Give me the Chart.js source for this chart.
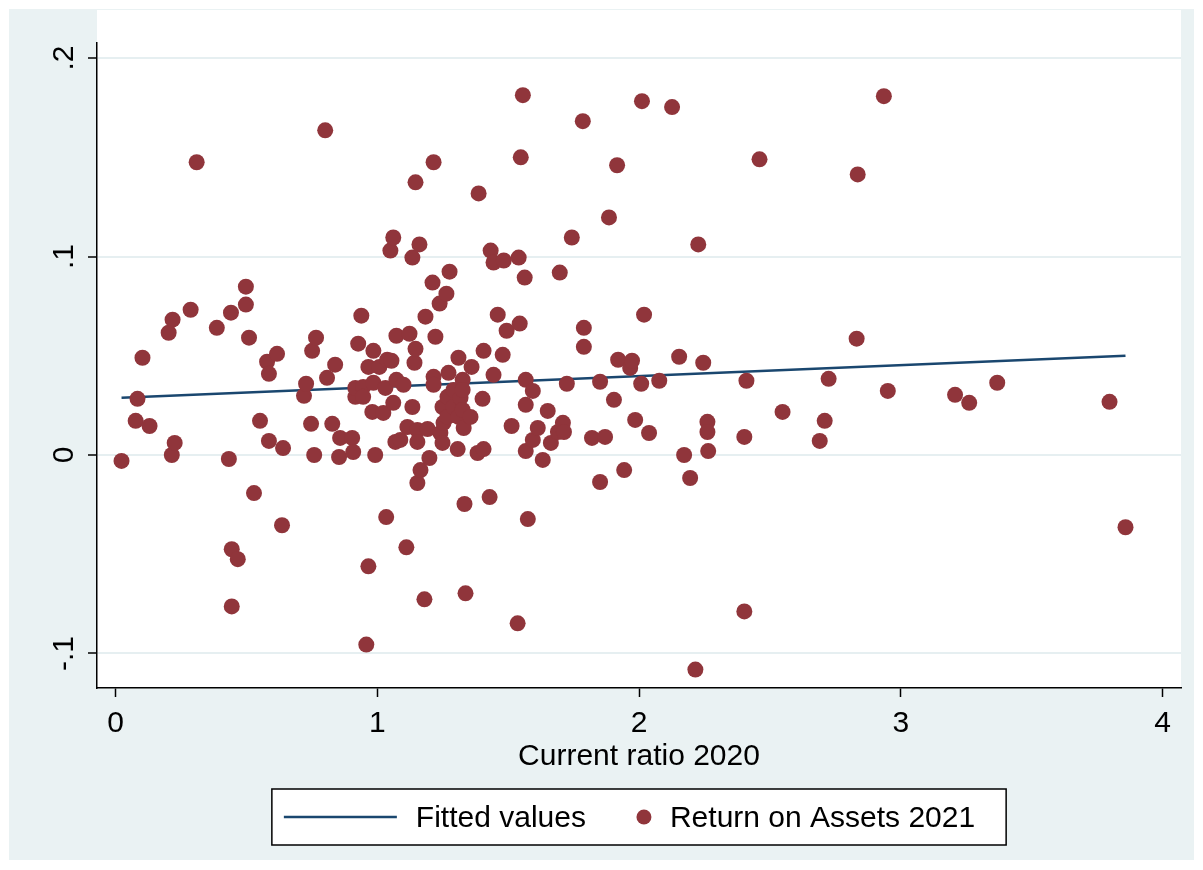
<!DOCTYPE html>
<html>
<head>
<meta charset="utf-8">
<script src="https://cdn.jsdelivr.net/npm/chart.js@4.4.1/dist/chart.umd.min.js"></script>
<style>
  html, body { margin: 0; padding: 0; background: #ffffff; }
  #wrap { width: 1203px; height: 870px; }
</style>
</head>
<body>
<div id="wrap"><canvas id="chart" width="1203" height="870"></canvas></div>
<script>
// Current ratio (2020) of each firm
const currentRatio = [
  0.023, 0.077, 0.084, 0.103, 0.130, 0.203, 0.218, 0.215, 0.226, 0.287,
  0.310, 0.387, 0.433, 0.441, 0.444, 0.467, 0.444, 0.498, 0.498, 0.510,
  0.529, 0.552, 0.579, 0.586, 0.586, 0.617, 0.636, 0.640, 0.720, 0.728,
  0.747, 0.751, 0.759, 0.766, 0.801, 0.808, 0.828, 0.839, 0.854, 0.858,
  0.904, 0.908, 0.916, 0.916, 0.927, 0.939, 0.946, 0.946, 0.958, 0.966,
  0.966, 0.985, 0.985, 0.981, 0.992, 1.008, 1.023, 1.031, 1.038, 1.034,
  1.054, 1.050, 1.061, 1.061, 1.073, 1.073, 1.069, 1.088, 1.100, 1.111,
  1.115, 1.123, 1.134, 1.134, 1.142, 1.146, 1.146, 1.153, 1.153, 1.153,
  1.161, 1.165, 1.180, 1.184, 1.192, 1.199, 1.211, 1.215, 1.215, 1.215,
  1.222, 1.238, 1.241, 1.249, 1.249, 1.253, 1.264, 1.268, 1.268, 1.272,
  1.276, 1.291, 1.291, 1.307, 1.310, 1.310, 1.318, 1.326, 1.326, 1.326,
  1.330, 1.333, 1.337, 1.356, 1.360, 1.383, 1.387, 1.402, 1.406, 1.406,
  1.429, 1.433, 1.444, 1.444, 1.460, 1.479, 1.483, 1.494, 1.513, 1.536,
  1.540, 1.544, 1.548, 1.556, 1.563, 1.567, 1.567, 1.567, 1.575, 1.594,
  1.594, 1.613, 1.632, 1.651, 1.663, 1.690, 1.697, 1.709, 1.713, 1.724,
  1.743, 1.785, 1.789, 1.789, 1.820, 1.851, 1.851, 1.870, 1.885, 1.904,
  1.916, 1.920, 1.943, 1.966, 1.973, 1.985, 2.008, 2.011, 2.019, 2.038,
  2.077, 2.126, 2.153, 2.172, 2.195, 2.215, 2.226, 2.245, 2.261, 2.261,
  2.264, 2.402, 2.402, 2.410, 2.460, 2.548, 2.690, 2.709, 2.724, 2.831,
  2.835, 2.935, 2.950, 3.207, 3.261, 3.368, 3.797, 3.858
];

// Return on assets (2021) of the same firms
const returnOnAssets = [
  -0.0030, 0.0172, 0.0283, 0.0490, 0.0146, 0.0616, 0.0682, 0.0000, 0.0061, 0.0732,
  0.1475, 0.0641, -0.0020, 0.0717, -0.0475, -0.0525, -0.0763, 0.0848, 0.0758, 0.0591,
  -0.0192, 0.0172, 0.0470, 0.0071, 0.0409, 0.0510, -0.0354, 0.0035, 0.0298, 0.0359,
  0.0157, 0.0525, 0.0000, 0.0591, 0.1636, 0.0389, 0.0157, 0.0455, -0.0010, 0.0086,
  0.0086, 0.0015, 0.0293, 0.0338, 0.0561, 0.0702, 0.0343, 0.0293, -0.0955, -0.0561,
  0.0444, 0.0525, 0.0364, 0.0217, 0.0000, 0.0444, 0.0212, 0.0338, 0.0480, -0.0313,
  0.0475, 0.1030, 0.1096, 0.0263, 0.0601, 0.0379, 0.0066, 0.0076, 0.0354, -0.0465,
  0.0141, 0.0611, 0.0995, 0.0242, 0.0465, 0.1374, 0.0535, 0.0126, 0.0066, -0.0141,
  0.1061, -0.0076, -0.0727, 0.0697, 0.0131, -0.0015, 0.0869, 0.1475, 0.0394, 0.0354,
  0.0596, 0.0763, 0.0111, 0.0242, 0.0061, 0.0162, 0.0813, 0.0293, 0.0192, 0.0414,
  0.0924, 0.0328, 0.0242, 0.0030, 0.0490, 0.0192, 0.0288, 0.0379, 0.0328, 0.0227,
  0.0136, -0.0247, -0.0697, 0.0192, 0.0444, 0.0010, 0.1318, 0.0283, 0.0525, 0.0030,
  -0.0212, 0.1030, 0.0970, 0.0404, 0.0707, 0.0505, 0.0980, 0.0626, 0.0146, -0.0848,
  0.0995, 0.0662, 0.1500, 0.1813, 0.0894, 0.0379, 0.0253, 0.0020, -0.0323, 0.0323,
  0.0076, 0.0136, -0.0025, 0.0222, 0.0061, 0.0116, 0.0919, 0.0162, 0.0116, 0.0359,
  0.1096, 0.1682, 0.0641, 0.0545, 0.0086, 0.0369, -0.0136, 0.0091, 0.1197, 0.0278,
  0.1460, 0.0480, -0.0076, 0.0439, 0.0475, 0.0177, 0.0359, 0.1783, 0.0707, 0.0111,
  0.0374, 0.1753, 0.0495, 0.0000, -0.0116, -0.1081, 0.1061, 0.0465, 0.0167, 0.0116,
  0.0020, 0.0091, -0.0788, 0.0374, 0.1490, 0.0217, 0.0071, 0.0172, 0.0384, 0.0586,
  0.1414, 0.1808, 0.0323, 0.0303, 0.0263, 0.0364, 0.0268, -0.0364
];

// Linear fit: endpoints at the smallest and largest current ratio
const fitX = [0.023, 3.858];
const fitY = [0.0288, 0.0500];

// Axis ticks and labels
const xTicks = [0, 1, 2, 3, 4];
const yTicks = [-0.1, 0, 0.1, 0.2];
const yTickLabels = ['-.1', '0', '.1', '.2'];
const xAxisTitle = 'Current ratio 2020';
const seriesNames = ['Fitted values', 'Return on Assets 2021'];

const FONT = '"Liberation Sans", Arial, Helvetica, sans-serif';
const FONT_SIZE = 30;
const BG = '#eaf2f3';
const LINE_COLOR = '#1a476f';
const DOT_COLOR = '#90353b';

const scatterPoints = currentRatio.map((x, i) => ({ x: x, y: returnOnAssets[i] }));
const fitPoints = fitX.map((x, i) => ({ x: x, y: fitY[i] }));

// Light graph region with a white plot region on top
const backgroundPlugin = {
  id: 'stataBackground',
  beforeDraw(chart) {
    const { ctx, chartArea } = chart;
    ctx.save();
    ctx.fillStyle = '#ffffff';
    ctx.fillRect(0, 0, chart.width, chart.height);
    ctx.fillStyle = BG;
    ctx.fillRect(9, 9, chart.width - 18, chart.height - 19);
    ctx.fillStyle = '#ffffff';
    ctx.fillRect(chartArea.left, chartArea.top - 33, chartArea.right - chartArea.left, chartArea.bottom - chartArea.top + 33);
    ctx.restore();
  }
};

// Boxed legend under the axis title
const legendPlugin = {
  id: 'boxedLegend',
  afterDraw(chart) {
    const { ctx, chartArea } = chart;
    const cy = chartArea.bottom + 129;
    ctx.save();
    ctx.font = FONT_SIZE + 'px ' + FONT;
    const w1 = ctx.measureText(seriesNames[0]).width;
    const w2 = ctx.measureText(seriesNames[1]).width;
    const lineLen = 113;
    const total = 12 + lineLen + 19 + w1 + 58 + 26 + w2 + 31;
    const left = (chartArea.left + chartArea.right) / 2 - total / 2;
    const boxH = 56;
    ctx.fillStyle = '#ffffff';
    ctx.fillRect(left, cy - boxH / 2, total, boxH);
    ctx.strokeStyle = '#000000';
    ctx.lineWidth = 1.5;
    ctx.strokeRect(left, cy - boxH / 2, total, boxH);

    let x = left + 12;
    ctx.strokeStyle = LINE_COLOR;
    ctx.lineWidth = 2.5;
    ctx.beginPath();
    ctx.moveTo(x, cy);
    ctx.lineTo(x + lineLen, cy);
    ctx.stroke();
    x += lineLen + 19;
    ctx.fillStyle = '#000000';
    ctx.textBaseline = 'middle';
    ctx.textAlign = 'left';
    ctx.fillText(seriesNames[0], x, cy + 2);
    x += w1 + 58;
    ctx.fillStyle = DOT_COLOR;
    ctx.beginPath();
    ctx.arc(x, cy, 7.5, 0, Math.PI * 2);
    ctx.fill();
    x += 26;
    ctx.fillStyle = '#000000';
    ctx.fillText(seriesNames[1], x, cy + 2);
    ctx.restore();
  }
};

new Chart(document.getElementById('chart'), {
  type: 'scatter',
  data: {
    datasets: [
      {
        type: 'scatter',
        label: seriesNames[1],
        data: scatterPoints,
        backgroundColor: DOT_COLOR,
        borderColor: DOT_COLOR,
        borderWidth: 0,
        pointRadius: 8,
        pointHoverRadius: 8,
        order: 1
      },
      {
        type: 'line',
        label: seriesNames[0],
        data: fitPoints,
        borderColor: LINE_COLOR,
        borderWidth: 2.5,
        pointRadius: 0,
        fill: false,
        tension: 0,
        order: 2
      }
    ]
  },
  options: {
    responsive: false,
    animation: false,
    devicePixelRatio: 1,
    layout: { padding: { left: 0, top: 43, right: 22, bottom: 82 } },
    plugins: {
      legend: { display: false },
      tooltip: { enabled: false }
    },
    scales: {
      x: {
        type: 'linear',
        min: -0.0707,
        max: 4.070,
        afterBuildTicks(scale) { scale.ticks = xTicks.map(v => ({ value: v })); },
        afterFit(scale) { scale.height = 100; },
        grid: {
          display: true,
          drawOnChartArea: false,
          drawTicks: true,
          tickLength: 9,
          tickColor: '#000000',
          tickWidth: 1.5
        },
        border: { display: true, color: '#000000', width: 1.5 },
        ticks: {
          color: '#000000',
          font: { family: FONT, size: FONT_SIZE },
          padding: 9,
          maxRotation: 0,
          callback: (v) => String(v)
        },
        title: {
          display: true,
          text: xAxisTitle,
          color: '#000000',
          font: { family: FONT, size: FONT_SIZE },
          padding: { top: 0, bottom: 13 }
        }
      },
      y: {
        type: 'linear',
        min: -0.1174,
        max: 0.2076,
        afterBuildTicks(scale) { scale.ticks = yTicks.map(v => ({ value: v })); },
        afterFit(scale) { scale.width = 97; },
        grid: {
          display: true,
          color: '#e6eff1',
          lineWidth: 2,
          drawTicks: true,
          tickLength: 9,
          tickColor: '#000000',
          tickWidth: 1.5
        },
        border: { display: true, color: '#000000', width: 1.5 },
        ticks: {
          color: '#000000',
          font: { family: FONT, size: FONT_SIZE },
          padding: 6,
          minRotation: 90,
          maxRotation: 90,
          crossAlign: 'center',
          callback: (v) => {
            const i = yTicks.findIndex(t => Math.abs(t - v) < 1e-9);
            return i >= 0 ? yTickLabels[i] : '';
          }
        }
      }
    }
  },
  plugins: [backgroundPlugin, legendPlugin]
});
</script>
</body>
</html>
